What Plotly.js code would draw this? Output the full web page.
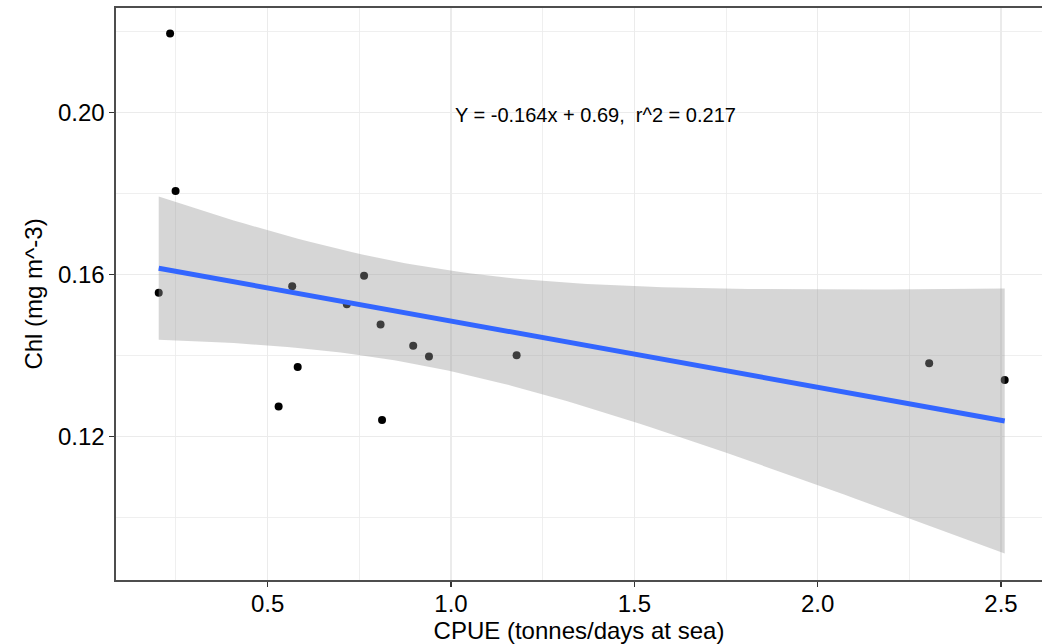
<!DOCTYPE html>
<html>
<head>
<meta charset="utf-8">
<script src="https://cdn.plot.ly/plotly-3.0.1.min.js"></script>
<style>html,body{margin:0;padding:0;background:#fff;}#chart{width:1042px;height:644px;}</style>
</head>
<body>
<div id="chart"></div>
<script>
// Data
const cpue = [0.234, 0.249, 0.203, 0.567, 0.763, 0.716, 0.808, 0.897, 0.940, 1.179, 0.582, 0.530, 0.812, 2.304, 2.510];
const chl  = [0.2195, 0.1806, 0.1555, 0.1571, 0.1597, 0.1527, 0.1477, 0.1424, 0.1398, 0.1401, 0.1372, 0.1274, 0.1241, 0.1381, 0.1340];
const xTicks = [0.5, 1.0, 1.5, 2.0, 2.5];
const xTickLabels = ["0.5", "1.0", "1.5", "2.0", "2.5"];
const yTicks = [0.12, 0.16, 0.20];
const yTickLabels = ["0.12", "0.16", "0.20"];
const eqText = "Y = -0.164x + 0.69,  r^2 = 0.217";
const xTitle = "CPUE (tonnes/days at sea)";
const yTitle = "Chl (mg m^-3)";

// Linear fit with 95% confidence band (as geom_smooth(method = "lm"))
const n = cpue.length;
const mx = cpue.reduce((a, b) => a + b, 0) / n;
const my = chl.reduce((a, b) => a + b, 0) / n;
let sxx = 0, sxy = 0;
for (let i = 0; i < n; i++) { sxx += (cpue[i] - mx) ** 2; sxy += (cpue[i] - mx) * (chl[i] - my); }
const slope = sxy / sxx;
const icpt = my - slope * mx;
let rss = 0;
for (let i = 0; i < n; i++) { rss += (chl[i] - (icpt + slope * cpue[i])) ** 2; }
const s = Math.sqrt(rss / (n - 2));
const tq = 2.160369; // t(0.975, df = 13)
const xmin = Math.min(...cpue), xmax = Math.max(...cpue);
const fx = [], fy = [], lo = [], hi = [];
for (let k = 0; k < 80; k++) {
  const x = xmin + (xmax - xmin) * k / 79;
  const yhat = icpt + slope * x;
  const se = s * Math.sqrt(1 / n + (x - mx) ** 2 / sxx);
  fx.push(x); fy.push(yhat); lo.push(yhat - tq * se); hi.push(yhat + tq * se);
}

const font = "'Liberation Sans', Arial, sans-serif";
const traces = [
  { x: cpue, y: chl, mode: "markers", type: "scatter",
    marker: { color: "#000000", size: 8 }, hoverinfo: "skip", showlegend: false },
  { x: fx, y: lo, mode: "lines", type: "scatter", line: { width: 0, color: "rgba(0,0,0,0)" },
    hoverinfo: "skip", showlegend: false },
  { x: fx, y: hi, mode: "lines", type: "scatter", line: { width: 0, color: "rgba(0,0,0,0)" },
    fill: "tonexty", fillcolor: "rgba(153,153,153,0.4)", hoverinfo: "skip", showlegend: false },
  { x: fx, y: fy, mode: "lines", type: "scatter", line: { color: "#3366FF", width: 5 },
    hoverinfo: "skip", showlegend: false }
];

const gridC = "#ebebeb";
const layout = {
  width: 1042, height: 644,
  margin: { l: 116, r: 0, t: 7.5, b: 63.5, pad: 0 },
  paper_bgcolor: "#ffffff", plot_bgcolor: "#ffffff",
  font: { family: font, color: "#000000" },
  showlegend: false,
  xaxis: {
    range: [0.0865, 2.6117], tickmode: "array", tickvals: xTicks, ticktext: xTickLabels,
    showgrid: true, gridcolor: gridC, gridwidth: 1.3,
    minor: { dtick: 0.25, tick0: 0, showgrid: true, gridcolor: gridC, gridwidth: 0.8 },
    zeroline: false, showline: true, linecolor: "#4d4d4d", linewidth: 1.6, mirror: true,
    ticks: "outside", ticklen: 5, tickwidth: 1.3, tickcolor: "#333333",
    ticklabelstandoff: -3,
    tickfont: { size: 24, family: font, color: "#000000" },
    title: { text: xTitle, font: { size: 24, family: font, color: "#000000" }, standoff: 4 }
  },
  yaxis: {
    range: [0.0846, 0.2258], tickmode: "array", tickvals: yTicks, ticktext: yTickLabels,
    showgrid: true, gridcolor: gridC, gridwidth: 1.3,
    minor: { dtick: 0.04, tick0: 0.10, showgrid: true, gridcolor: gridC, gridwidth: 0.8 },
    zeroline: false, showline: true, linecolor: "#4d4d4d", linewidth: 1.6, mirror: false,
    ticks: "outside", ticklen: 5, tickwidth: 1.3, tickcolor: "#333333",
    tickfont: { size: 24, family: font, color: "#000000" },
    title: { text: yTitle, font: { size: 24, family: font, color: "#000000" }, standoff: 8 }
  },
  annotations: [{
    x: 1.394, y: 0.1993, xref: "x", yref: "y", text: eqText, showarrow: false,
    xanchor: "center", yanchor: "middle", font: { size: 20, family: font, color: "#000000" }
  }]
};

Plotly.newPlot("chart", traces, layout, { displayModeBar: false, staticPlot: true });
</script>
</body>
</html>
